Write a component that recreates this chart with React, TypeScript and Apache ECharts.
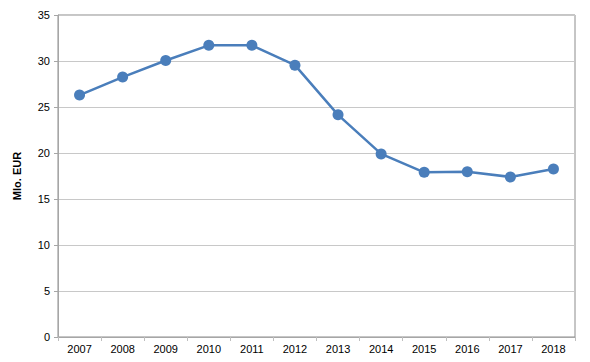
import React, { useEffect, useRef } from "react";
import * as echarts from "echarts";

const years = ["2007", "2008", "2009", "2010", "2011", "2012", "2013", "2014", "2015", "2016", "2017", "2018"];
const values = [26.3, 28.25, 30.05, 31.7, 31.7, 29.55, 24.15, 19.9, 17.9, 17.95, 17.4, 18.25];
const yAxisName = "Mlo. EUR";

export default function App() {
  const ref = useRef<HTMLDivElement>(null);
  useEffect(() => {
    const chart = echarts.init(ref.current!, null, { renderer: "svg" });
    chart.setOption({
      animation: false,
      backgroundColor: "#ffffff",
      grid: { left: 58, top: 15, right: 15, bottom: 25, show: true, borderColor: "#8c8c8c", borderWidth: 1 },
      xAxis: {
        type: "category",
        data: years,
        boundaryGap: true,
        axisLine: { lineStyle: { color: "#a6a6a6", width: 1 } },
        axisTick: { show: true, length: 4, lineStyle: { color: "#bfbfbf" } },
        axisLabel: { color: "#000", fontFamily: "Liberation Sans", fontSize: 11, margin: 6 },
      },
      yAxis: {
        type: "value",
        min: 0,
        max: 35,
        interval: 5,
        name: yAxisName,
        nameLocation: "middle",
        nameGap: 36,
        nameTextStyle: { color: "#000", fontFamily: "Liberation Sans", fontSize: 11, fontWeight: "bold" },
        axisLine: { show: true, lineStyle: { color: "#a6a6a6", width: 1 } },
        axisTick: { show: true, length: 4, lineStyle: { color: "#a6a6a6" } },
        splitLine: { lineStyle: { color: "#c8c8c8", width: 1 } },
        axisLabel: { color: "#000", fontFamily: "Liberation Sans", fontSize: 11, margin: 8 },
      },
      series: [
        {
          type: "line",
          data: values,
          symbol: "circle",
          symbolSize: 11,
          lineStyle: { color: "#4a7ebb", width: 2.5 },
          itemStyle: { color: "#4a7ebb" },
        },
      ],
    });
    return () => chart.dispose();
  }, []);
  return <div ref={ref} style={{ width: 590, height: 362, margin: -8 }} />;
}
